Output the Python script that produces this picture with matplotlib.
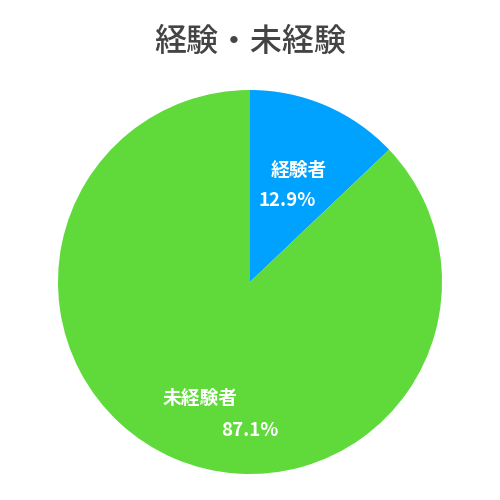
import matplotlib
matplotlib.use("Agg")
import matplotlib.pyplot as plt

plt.rcParams['font.family'] = ['Noto Sans CJK JP', 'DejaVu Sans']

# =========================================================
# DATA
# =========================================================

title = "経験・未経験"
labels = ["経験者", "未経験者"]
values = [12.9, 87.1]
colors = ["#00A2FF", "#5FDA3A"]

# =========================================================
# PLOT
# =========================================================

fig = plt.figure(figsize=(5, 5), dpi=100)
ax = fig.add_axes([58 / 500, 26 / 500, 384 / 500, 384 / 500])

ax.pie(values, colors=colors, startangle=90, counterclock=False,
       radius=1.0, wedgeprops=dict(linewidth=0))
ax.set_xlim(-1, 1)
ax.set_ylim(-1, 1)
ax.set_aspect("equal")
ax.axis("off")

# label spots, in pie radius units (pie radius = 192px)
name_pos = [(49 / 192, 112 / 192), (-50 / 192, -116 / 192)]
pct_pos = [(37 / 192, 81 / 192), (0.0, -148 / 192)]

for lab, val, npos, ppos in zip(labels, values, name_pos, pct_pos):
    ax.text(npos[0], npos[1], lab, color="white", fontsize=13.5,
            fontweight="bold", ha="center", va="center")
    ax.text(ppos[0], ppos[1], f"{val:.1f}%", color="white", fontsize=13.5,
            fontweight="bold", ha="center", va="center")

fig.text(0.5, 458 / 500, title, ha="center", va="center",
         fontsize=23, color="#444444", fontweight="medium")

fig.savefig("out.png", dpi=100, facecolor="white")
